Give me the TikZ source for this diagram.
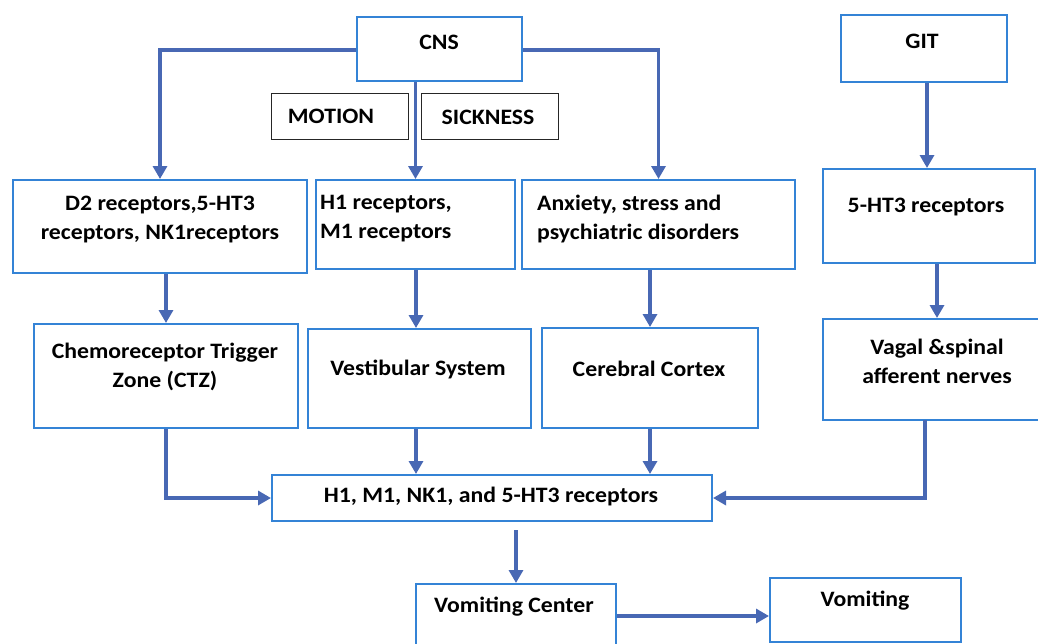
\documentclass[tikz,border=0pt]{standalone}
\usepackage{fontspec}
\setmainfont{Carlito}[FakeStretch=1.08]
\usetikzlibrary{arrows.meta,calc}
\definecolor{boxblue}{RGB}{52,131,214}
\definecolor{arrblue}{RGB}{72,104,180}
\begin{document}
\begin{tikzpicture}[x=1pt,y=-1pt,
  box/.style={draw=boxblue, line width=2pt, inner sep=0pt, anchor=north west},
  lbox/.style={draw=black!85, line width=1pt, inner sep=0pt, anchor=north west},
  txt/.style={font=\fontsize{22}{29}\selectfont\bfseries, inner sep=0pt, align=center},
  arr/.style={draw=arrblue, line width=3.2pt, -{Triangle[length=13pt,width=14pt]}}]
\clip (0,0) rectangle (1038,643);
\fill[white] (0,0) rectangle (1038,643);
% boxes
\node[box, minimum width=165pt, minimum height=64pt] (cns) at (356,16) {};
\node[lbox, minimum width=137pt, minimum height=46pt] (motion) at (271,93) {};
\node[lbox, minimum width=137pt, minimum height=46pt] (sick) at (421,93) {};
\node[box, minimum width=166pt, minimum height=67pt] (git) at (840,14) {};
\node[box, minimum width=294pt, minimum height=93pt] (d2) at (12,179) {};
\node[box, minimum width=199pt, minimum height=89pt] (h1) at (315,179) {};
\node[box, minimum width=273pt, minimum height=89pt] (anx) at (521,179) {};
\node[box, minimum width=212pt, minimum height=94pt] (ht) at (822,168) {};
\node[box, minimum width=264pt, minimum height=104pt] (ctz) at (33,323) {};
\node[box, minimum width=223pt, minimum height=99pt] (vest) at (307,328) {};
\node[box, minimum width=216pt, minimum height=100pt] (cer) at (541,327) {};
\node[box, minimum width=230pt, minimum height=101pt] (vag) at (822,318) {};
\node[box, minimum width=440pt, minimum height=46pt] (cen) at (271,474) {};
\node[box, minimum width=200pt, minimum height=80pt] (vc) at (415,583) {};
\node[box, minimum width=191pt, minimum height=64pt] (vom) at (769,577) {};
% texts
\node[txt] (tcns) at (439,42) {CNS};
\node[txt] (tmotion) at (331,116) {MOTION};
\node[txt] (tsick) at (488,117) {SICKNESS};
\node[txt] (tgit) at (922,41) {GIT};
\node[txt] (td2) at (160,220) {D2 receptors,5-HT3\\receptors, NK1receptors};
\node[txt, align=left, anchor=west] (th1) at (320,219) {H1 receptors,\\M1 receptors};
\node[txt, align=left, anchor=west] (tanx) at (537,219) {Anxiety, stress and\\psychiatric disorders};
\node[txt] (tht) at (926,207) {5-HT3 receptors};
\node[txt] (tctz) at (165,367) {Chemoreceptor Trigger\\Zone (CTZ)};
\node[txt] (tvest) at (418,369) {Vestibular System};
\node[txt] (tcer) at (649,369) {Cerebral Cortex};
\node[txt] (tvag) at (937,361) {Vagal \&spinal\\afferent nerves};
\node[txt] (tcen) at (491,497) {H1, M1, NK1, and 5-HT3 receptors};
\node[txt] (tvc) at (514,607) {Vomiting Center};
\node[txt] (tvom) at (865,601) {Vomiting};
% connectors
\coordinate (cl) at ($(cns.west)+(0,1)$);
\coordinate (cr) at ($(cns.east)+(0,1)$);
\draw[arr] (cl) -| (d2.north);
\draw[arr] (cr) -| (anx.north);
\draw[arr] (cns.south -| h1.north) -- (h1.north);
\draw[arr] (git.south -| 927,0) -- (ht.north -| 927,0);
\draw[arr] (ht.south -| 937,0) -- (vag.north -| 937,0);
\draw[arr] (d2.south -| ctz.north) -- (ctz.north);
\draw[arr] (h1.south -| 416,0) -- (vest.north -| 416,0);
\draw[arr] (anx.south -| cer.north) -- (cer.north);
\draw[arr] (ctz.south) |- (cen.west);
\draw[arr] (vest.south -| 416,0) -- (cen.north -| 416,0);
\draw[arr] (cer.south) -- (cer.south |- cen.north);
\coordinate (vg) at (925,420);
\draw[arr] (vg) |- (cen.east);
\coordinate (cs) at ($(cen.south -| vc.north)+(0,8)$);
\draw[arr] (cs) -- (vc.north);
\coordinate (vr) at (vc.east |- 0,616);
\draw[arr] (vr) -- (vom.west |- vr);
\end{tikzpicture}
\end{document}
